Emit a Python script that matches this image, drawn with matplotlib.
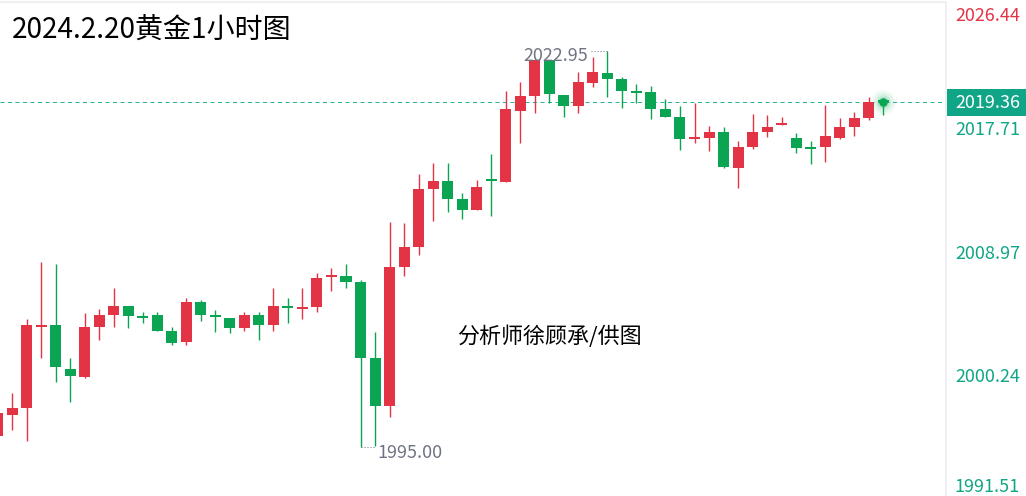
import numpy as np
import matplotlib
matplotlib.use('Agg')
import matplotlib.pyplot as plt
import matplotlib.transforms as mtransforms
from matplotlib.patches import Rectangle

plt.rcParams['font.family'] = ['Noto Sans CJK SC', 'DejaVu Sans']

# data ---------------------------------------------------------------
opens = [1995.74, 1997.22, 1997.72, 2003.45, 2003.59, 2000.48, 1999.91, 2003.45, 2004.30, 2004.94,
         2004.23, 2004.30, 2003.17, 2002.39, 2005.22, 2004.30, 2004.09, 2003.38, 2004.30, 2003.59,
         2004.94, 2004.73, 2004.87, 2006.99, 2007.06, 2006.64, 2001.26, 1997.86, 2007.70, 2009.11,
         2013.22, 2013.79, 2012.51, 2011.73, 2013.93, 2013.71, 2018.74, 2019.80, 2022.35, 2019.87,
         2019.09, 2020.72, 2021.43, 2021.00, 2020.08, 2020.08, 2018.88, 2018.31, 2016.76, 2016.83,
         2017.25, 2014.71, 2016.19, 2017.25, 2017.75, 2016.83, 2016.19, 2016.19, 2016.83, 2017.61,
         2018.24, 2019.38]
highs = [1997.90, 1998.78, 2004.02, 2008.05, 2007.91, 2001.26, 2004.44, 2004.73, 2006.21, 2004.94,
         2004.51, 2004.51, 2003.45, 2005.50, 2005.36, 2004.66, 2004.09, 2004.51, 2004.51, 2006.21,
         2005.50, 2006.21, 2007.27, 2007.63, 2007.91, 2006.78, 2003.10, 2010.88, 2010.81, 2014.28,
         2015.06, 2015.06, 2012.94, 2013.86, 2015.70, 2020.15, 2020.79, 2022.35, 2022.35, 2019.87,
         2021.50, 2022.56, 2022.95, 2021.15, 2020.65, 2020.51, 2019.59, 2019.09, 2019.31, 2017.68,
         2017.61, 2016.62, 2018.53, 2018.46, 2018.31, 2017.18, 2016.62, 2019.16, 2018.24, 2018.67,
         2019.73, 2019.45]
lows = [1995.40, 1996.16, 1995.38, 2001.26, 1999.56, 1998.14, 1999.85, 2002.53, 2003.45, 2003.38,
        2003.74, 2003.17, 2002.18, 2002.18, 2003.88, 2003.10, 2003.03, 2003.17, 2002.53, 2003.17,
        2003.74, 2004.02, 2004.51, 2006.00, 2006.21, 1995.00, 1995.08, 1997.08, 2007.06, 2008.55,
        2010.95, 2011.59, 2011.10, 2011.73, 2011.31, 2013.71, 2016.47, 2018.60, 2019.31, 2018.31,
        2018.60, 2020.44, 2019.73, 2018.95, 2019.31, 2018.17, 2018.31, 2015.98, 2016.47, 2015.91,
        2014.71, 2013.29, 2016.05, 2016.90, 2017.75, 2015.77, 2014.99, 2015.13, 2016.76, 2016.97,
        2018.10, 2018.46]
closes = [1997.36, 1997.72, 2003.59, 2003.59, 2000.62, 1999.98, 2003.45, 2004.30, 2004.94, 2004.23,
          2004.09, 2003.17, 2002.32, 2005.22, 2004.30, 2004.16, 2003.38, 2004.30, 2003.59, 2004.94,
          2004.80, 2004.87, 2006.92, 2007.06, 2006.64, 2001.26, 1997.86, 2007.70, 2009.11, 2013.22,
          2013.79, 2012.51, 2011.73, 2013.36, 2013.79, 2018.88, 2019.80, 2022.35, 2019.94, 2019.09,
          2020.79, 2021.50, 2021.00, 2020.15, 2020.01, 2018.88, 2018.31, 2016.76, 2016.83, 2017.25,
          2014.78, 2016.19, 2017.25, 2017.61, 2017.82, 2016.12, 2016.05, 2016.97, 2017.61, 2018.24,
          2019.38, 2019.36]

axis_ticks = [2026.44, 2017.71, 2008.97, 2000.24, 1991.51]
last_price = 2019.36
title = '2024.2.20黄金1小时图'
credit = '分析师徐顾承/供图'

RED = '#e23445'
GREEN = '#0aa453'
TEAL = '#10a587'
GRAY_TXT = '#6f7482'

# plot ---------------------------------------------------------------
W, H = 1026, 496
fig = plt.figure(figsize=(W / 72, H / 72), dpi=72)
ax = fig.add_axes([0, 0, 946 / W, 494 / H])

o = np.array(opens)
c = np.array(closes)
hi = np.array(highs)
lo = np.array(lows)
x = np.arange(len(o))
up = c >= o
cols = np.where(up, RED, GREEN)

body_bot = np.minimum(o, c)
body_h = np.maximum(np.abs(c - o), 0.15)

ax.vlines(x, lo, hi, colors=cols, linewidth=1.4, zorder=2)
ax.bar(x, body_h, bottom=body_bot, width=0.76, color=cols, linewidth=0, zorder=3)

ax.set_xlim(0.172, 65.32)
ax.set_ylim(axis_ticks[-1], axis_ticks[0])

# current price line
ax.axhline(last_price, color='#2bb394', lw=1, ls=(0, (4, 3.5)), zorder=1)

# glowing dot on last candle
for s, a in [(620, 0.05), (400, 0.08), (220, 0.12), (120, 0.2)]:
    ax.scatter([x[-1]], [c[-1]], s=s, color='#1cb46a', alpha=a, linewidths=0, zorder=4)
ax.scatter([x[-1]], [c[-1]], s=70, color='#0aa453', linewidths=0, zorder=5)

# high / low marks
ih = int(np.argmax(hi))
il = int(np.argmin(lo))
ax.plot([x[ih] - 1.1, x[ih]], [hi[ih], hi[ih]], ls=(0, (1, 2)), color=GRAY_TXT, lw=1, zorder=2)
ax.annotate(f'{hi[ih]:.2f}', xy=(x[ih], hi[ih]), xytext=(-19, -5), textcoords='offset points',
            ha='right', va='center', fontsize=18, color=GRAY_TXT)
ax.plot([x[il], x[il] + 1.05], [lo[il], lo[il]], ls=(0, (1, 2)), color=GRAY_TXT, lw=1, zorder=2)
ax.annotate(f'{lo[il]:.2f}', xy=(x[il], lo[il]), xytext=(17, -6), textcoords='offset points',
            ha='left', va='center', fontsize=18, color=GRAY_TXT)

# frame
for side in ['left', 'bottom']:
    ax.spines[side].set_visible(False)
for side in ['top', 'right']:
    ax.spines[side].set_color('#ececf1')
    ax.spines[side].set_linewidth(1.5)
ax.set_xticks([])
ax.set_yticks([])

# right price labels
trans = mtransforms.blended_transform_factory(ax.transAxes, ax.transData)
for i, v in enumerate(axis_ticks):
    col = RED if v > last_price else TEAL
    if i == 0:
        dy = -14
    elif i == len(axis_ticks) - 1:
        dy = 9
    else:
        dy = -4.5
    ax.annotate(f'{v:.2f}', xy=(1.0, v), xycoords=trans, xytext=(74, dy), textcoords='offset points',
                ha='right', va='center', fontsize=18, color=col, annotation_clip=False)

ax.add_patch(Rectangle((1.001, last_price - 0.95), 0.09, 1.9, transform=trans,
                       facecolor=TEAL, edgecolor='none', clip_on=False, zorder=6))
ax.annotate(f'{last_price:.2f}', xy=(1.0, last_price), xycoords=trans, xytext=(74, -0.5),
            textcoords='offset points', ha='right', va='center', fontsize=18, color='white',
            annotation_clip=False, zorder=7)

# texts
fig.text(12 / W, 1 - 31 / H, title, fontsize=28, color='black', ha='left', va='center')
fig.text(549 / W, 1 - 337 / H, credit, fontsize=22, color='black', ha='center', va='center')

fig.savefig('out.png', dpi=72, facecolor='white')
